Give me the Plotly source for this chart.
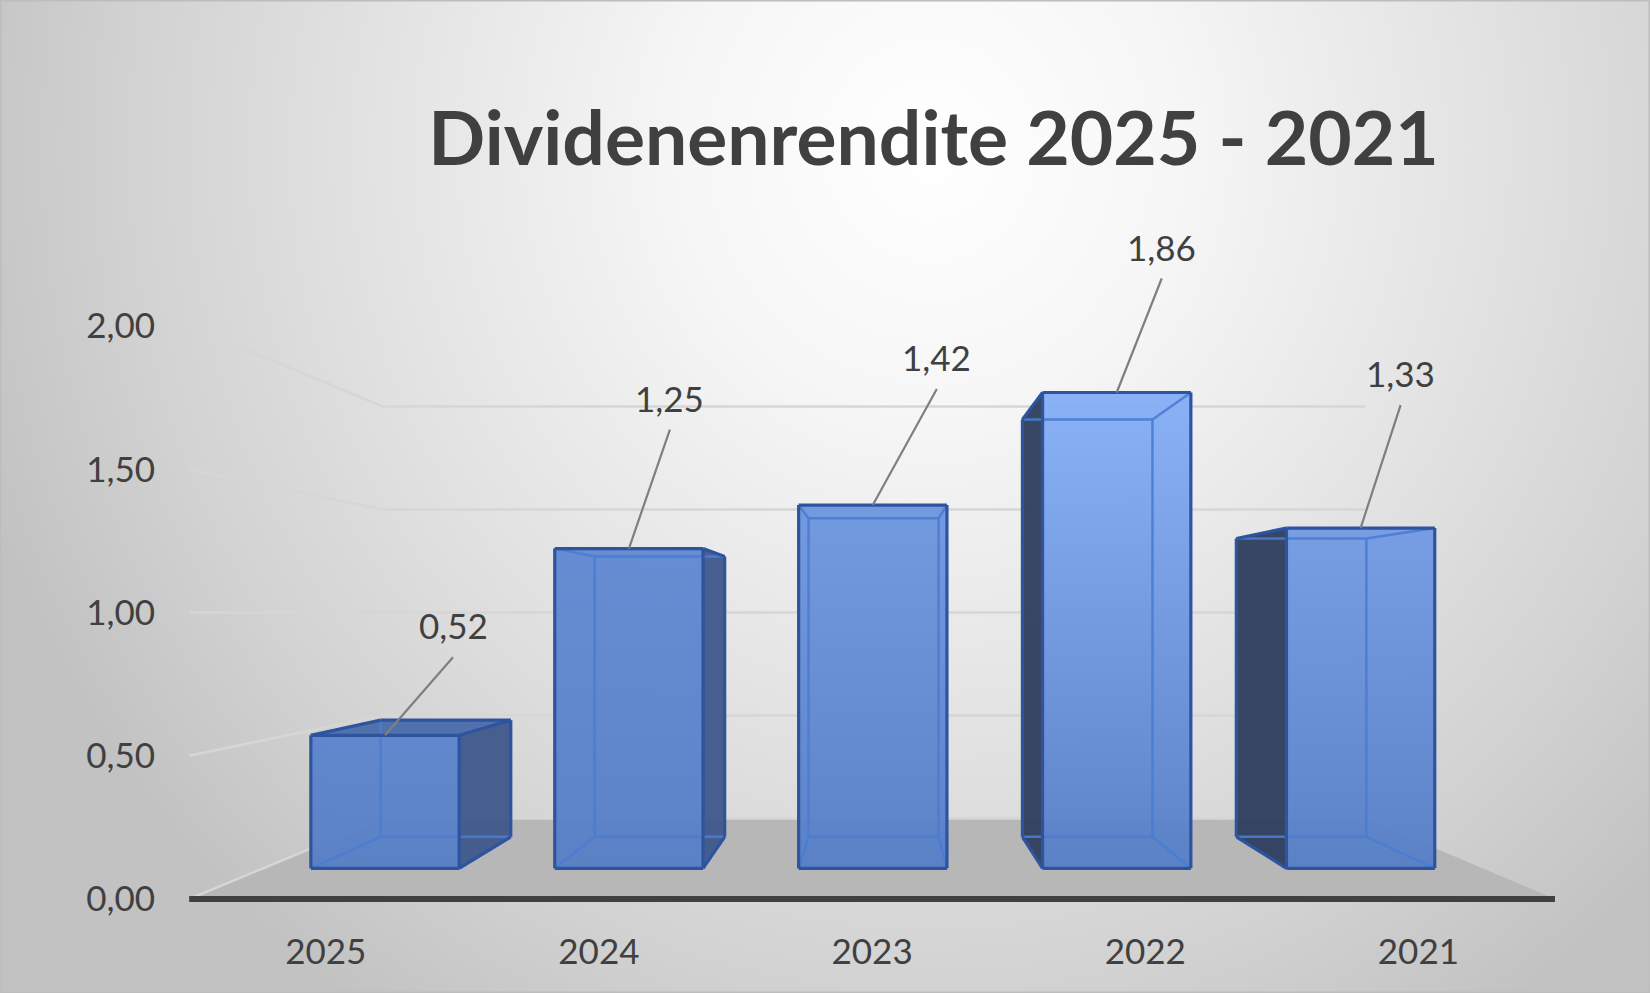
import plotly.graph_objects as go

# ---------------- data ----------------
CATEGORIES = ["2025", "2024", "2023", "2022", "2021"]
VALUES = [0.52, 1.25, 1.42, 1.86, 1.33]
Y_TICKS = [0.0, 0.5, 1.0, 1.5, 2.0]
TITLE = "Dividenenrendite 2025 - 2021"

# ---------------- style / layout ----------------
W, H = 1650, 993
X0_PX, X_STEP_PX = 385.0, 243.9      # pixel of category 0 centre, pixels per category (bar front plane)
Y0_PX, Y_UNIT_PX = 868.3, 255.8      # pixel of value 0, pixels per unit (bar front plane)
XV, YV = 2.025, 1.0                  # vanishing point (front-plane data units)
K_FLOOR = 1.12                       # depth factor of front floor edge / axis labels
K_BACK = 0.877                       # depth factor of bar back faces
K_WALL = 0.8057                      # depth factor of back wall
HALF_W = 0.304                       # half bar width (category units)
LABEL_OFFSETS = [(68, -78), (41, -119), (64, -116), (45, -114), (40, -123)]
FRONT_TOP = ["#5c85cc", "#6189d2", "#6e97de", "#86aff7", "#739be3"]
FRONT_BOTTOM = "#577fc6"
RIGHT_SIDE = "#3f5a8a"
LEFT_SIDE = "#303f60"
TOP_FACE = "#4a6caa"
EDGE_VIS = "#2e539f"
EDGE_HID = "#4a7dd4"
TEXT = "#404040"
FONT = "Lato, 'Open Sans', sans-serif"

n = len(CATEGORIES)
xr = [(0 - X0_PX) / X_STEP_PX, (W - X0_PX) / X_STEP_PX]
yr = [(Y0_PX - H) / Y_UNIT_PX, Y0_PX / Y_UNIT_PX]


def proj(x, y, k):
    return XV + (x - XV) * k, YV + (y - YV) * k


def px2x(p):
    return (p - X0_PX) / X_STEP_PX


def py2y(p):
    return (Y0_PX - p) / Y_UNIT_PX


fig = go.Figure()
common = dict(hoverinfo="skip", showlegend=False)

# background radial gradient
cx, cy, rx, ry = 930, 150, 1000, 1050
bx = [px2x(cx - rx), px2x(cx + rx), px2x(cx + rx), px2x(cx - rx), px2x(cx - rx)]
by = [py2y(cy - ry), py2y(cy - ry), py2y(cy + ry), py2y(cy + ry), py2y(cy - ry)]
fig.add_trace(go.Scatter(
    x=bx, y=by, mode="lines", fill="toself", line=dict(width=0),
    fillgradient=dict(type="radial",
                      colorscale=[[0, "#ffffff"], [0.25, "#f6f6f6"], [0.55, "#e3e3e3"],
                                  [0.8, "#d2d2d2"], [1, "#c2c2c2"]]),
    **common))

xl, xrr = -0.5, n - 0.5

# floor
fl = [proj(xl, 0, K_FLOOR), proj(xrr, 0, K_FLOOR), proj(xrr, 0, K_WALL), proj(xl, 0, K_WALL)]
fl.append(fl[0])
fig.add_trace(go.Scatter(x=[p[0] for p in fl], y=[p[1] for p in fl], mode="lines",
                         fill="toself", fillcolor="#b7b7b7", line=dict(width=0), **common))

# gridlines on left and back walls
gx, gy = [], []
for v in Y_TICKS:
    for p in (proj(xl, v, K_FLOOR), proj(xl, v, K_WALL), proj(xrr, v, K_WALL)):
        gx.append(p[0]); gy.append(p[1])
    gx.append(None); gy.append(None)
fig.add_trace(go.Scatter(x=gx, y=gy, mode="lines", line=dict(color="#d6d6d6", width=2.5), **common))

# axis line (front floor edge)
a0, a1 = proj(xl, 0, K_FLOOR), proj(xrr, 0, K_FLOOR)
fig.add_trace(go.Scatter(x=[a0[0], a1[0]], y=[a0[1], a1[1]], mode="lines",
                         line=dict(color="#404040", width=6), **common))

# bars (pseudo 3D boxes)
FACES = {
    "front": ["FBL", "FBR", "FTR", "FTL"],
    "back": ["BBL", "BBR", "BTR", "BTL"],
    "right": ["FBR", "FTR", "BTR", "BBR"],
    "left": ["FBL", "FTL", "BTL", "BBL"],
    "top": ["FTL", "FTR", "BTR", "BTL"],
}
EDGES = [("FBL", "FBR"), ("FBR", "FTR"), ("FTR", "FTL"), ("FTL", "FBL"),
         ("BBL", "BBR"), ("BBR", "BTR"), ("BTR", "BTL"), ("BTL", "BBL"),
         ("FBL", "BBL"), ("FBR", "BBR"), ("FTR", "BTR"), ("FTL", "BTL")]


def face_edges(face):
    pts = FACES[face]
    return {frozenset((pts[j], pts[(j + 1) % 4])) for j in range(4)}


for i, v in enumerate(VALUES):
    L, R = i - HALF_W, i + HALF_W
    P = {}
    for dk, k in (("F", 1.0), ("B", K_BACK)):
        for sx, xx in (("L", L), ("R", R)):
            for sy, yy in (("B", 0.0), ("T", v)):
                P[dk + sy + sx] = proj(xx, yy, k)

    visible = ["front"]
    if XV > R:
        visible.append("right")
    if XV < L:
        visible.append("left")
    if YV > v:
        visible.append("top")

    def poly(face):
        pts = [P[c] for c in FACES[face]] + [P[FACES[face][0]]]
        return [p[0] for p in pts], [p[1] for p in pts]

    for face, col in (("right", RIGHT_SIDE), ("left", LEFT_SIDE), ("top", TOP_FACE)):
        if face in visible:
            fx, fy = poly(face)
            fig.add_trace(go.Scatter(x=fx, y=fy, mode="lines", fill="toself", fillcolor=col,
                                     line=dict(width=0), opacity=0.96, **common))
    fx, fy = poly("front")
    fig.add_trace(go.Scatter(
        x=fx, y=fy, mode="lines", fill="toself", line=dict(width=0), opacity=0.96,
        fillgradient=dict(type="vertical", start=0, stop=v,
                          colorscale=[[0, FRONT_BOTTOM], [1, FRONT_TOP[i]]]),
        **common))

    vis_edges = set()
    for f in visible:
        vis_edges |= face_edges(f)
    hx, hy, vx, vy = [], [], [], []
    for a, b in EDGES:
        tx, ty = (vx, vy) if frozenset((a, b)) in vis_edges else (hx, hy)
        tx += [P[a][0], P[b][0], None]
        ty += [P[a][1], P[b][1], None]
    fig.add_trace(go.Scatter(x=hx, y=hy, mode="lines", line=dict(color=EDGE_HID, width=2.5),
                             opacity=0.9, **common))
    fig.add_trace(go.Scatter(x=vx, y=vy, mode="lines", line=dict(color=EDGE_VIS, width=3.2),
                             **common))

# data labels with leader lines
for i, v in enumerate(VALUES):
    dx, dy = LABEL_OFFSETS[i]
    fig.add_annotation(x=i, y=v, xref="x", yref="y", text=f"{v:.2f}".replace(".", ","),
                       showarrow=True, arrowhead=0, arrowwidth=2.2, arrowcolor="#7f7f7f",
                       ax=dx, ay=dy, xanchor="center", yanchor="bottom", borderpad=10,
                       standoff=0, font=dict(family=FONT, size=35, color=TEXT))

# helper trace so that label axes are active
fig.add_trace(go.Scatter(x=[0], y=[0], xaxis="x2", yaxis="y2", mode="markers",
                         marker=dict(opacity=0), **common))

x2r = [XV + (xr[0] - XV) / K_FLOOR, XV + (xr[1] - XV) / K_FLOOR]
y2r = [YV + (yr[0] - YV) / K_FLOOR, YV + (yr[1] - YV) / K_FLOOR]

fig.update_layout(
    width=W, height=H, margin=dict(l=0, r=0, t=0, b=0, pad=0),
    paper_bgcolor="#d4d4d4", plot_bgcolor="rgba(0,0,0,0)",
    title=dict(text=TITLE, x=933.5 / W, y=1 - 139 / H, xref="paper", yref="container",
               xanchor="center", yanchor="middle",
               font=dict(family=FONT, size=75, color=TEXT, weight="bold")),
    xaxis=dict(range=xr, visible=False, fixedrange=True),
    yaxis=dict(range=yr, visible=False, fixedrange=True),
    xaxis2=dict(range=x2r, overlaying="x", anchor="free", position=1 - 928 / H,
                tickvals=list(range(n)), ticktext=CATEGORIES, showgrid=False, zeroline=False,
                showline=False, ticks="", fixedrange=True,
                tickfont=dict(family=FONT, size=35, color=TEXT)),
    yaxis2=dict(range=y2r, overlaying="y", anchor="free", position=155 / W, side="left",
                tickvals=Y_TICKS, ticktext=[f"{t:.2f}".replace(".", ",") for t in Y_TICKS],
                showgrid=False, zeroline=False, showline=False, ticks="", fixedrange=True,
                tickfont=dict(family=FONT, size=35, color=TEXT)),
    shapes=[dict(type="rect", xref="paper", yref="paper", x0=0, y0=0, x1=1, y1=1,
                 line=dict(color="#bdbdbd", width=3), fillcolor="rgba(0,0,0,0)", layer="above")],
)

fig.write_html("out.html", config={"displayModeBar": False},
               post_script="document.body.style.margin='0';document.body.style.overflow='hidden';")
